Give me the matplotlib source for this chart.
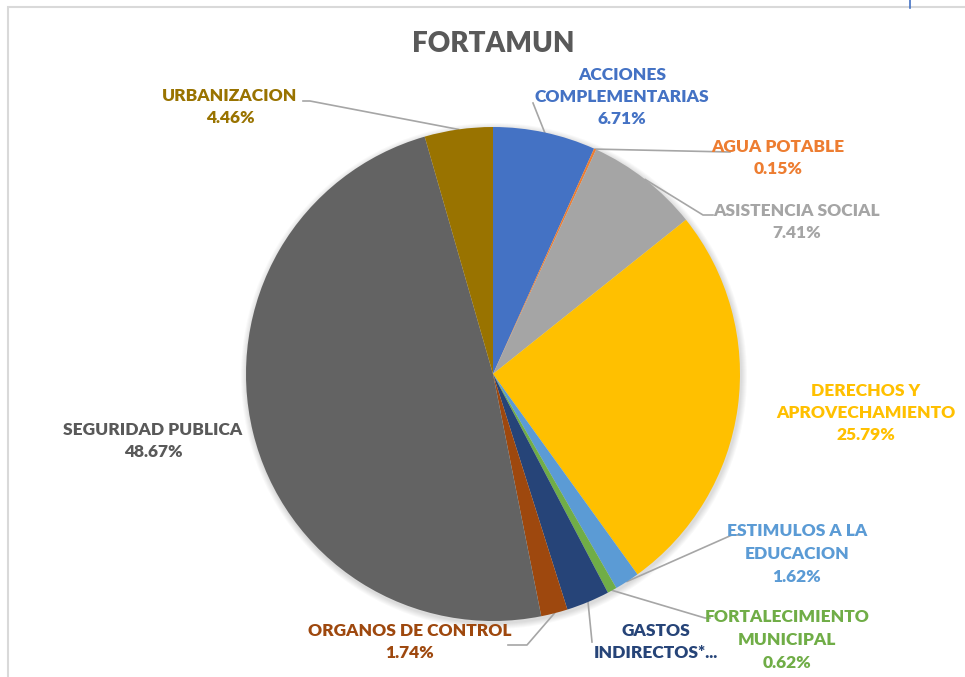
import numpy as np
import matplotlib.pyplot as plt
from matplotlib.patches import Rectangle, Circle

categorias = ['ACCIONES\nCOMPLEMENTARIAS', 'AGUA POTABLE', 'ASISTENCIA SOCIAL',
              'DERECHOS Y\nAPROVECHAMIENTO', 'ESTIMULOS A LA\nEDUCACION',
              'FORTALECIMIENTO\nMUNICIPAL', 'GASTOS\nINDIRECTOS*...',
              'ORGANOS DE CONTROL', 'SEGURIDAD PUBLICA', 'URBANIZACION']
porcentajes = [6.71, 0.15, 7.41, 25.79, 1.62, 0.62, 2.83, 1.74, 48.67, 4.46]
etiquetas_pct = ['6.71%', '0.15%', '7.41%', '25.79%', '1.62%', '0.62%', '',
                 '1.74%', '48.67%', '4.46%']
colores = ['#4472C4', '#ED7D31', '#A5A5A5', '#FFC000', '#5B9BD5', '#70AD47',
           '#264478', '#9E480E', '#636363', '#997300']

plt.rcParams['font.family'] = ['Lato', 'DejaVu Sans']

W, H = 965, 677
fig = plt.figure(figsize=(9.65, 6.77), dpi=100)
ax = fig.add_axes([0, 0, 1, 1])

# marco del grafico
ax.add_patch(Rectangle((8, -20), 1000, H - 7 + 20, fill=False, ec='#D9D9D9', lw=1.5))
ax.plot([910, 910], [H, H - 8], color='#4472C4', lw=1.2)

cx, cy, r = 493, H - 374, 247

# sombra suave
for k in range(6):
    ax.add_patch(Circle((cx + 1, cy - 2), r + 1 + k, color='black', alpha=0.025,
                        lw=0, zorder=0.2))

wedges, _ = ax.pie(porcentajes, colors=colores, startangle=90, counterclock=False,
                   center=(cx, cy), radius=r, frame=True,
                   wedgeprops=dict(linewidth=0))
ax.set_xlim(0, W)
ax.set_ylim(0, H)
ax.set_aspect('equal')
ax.axis('off')

ax.text(493, H - 44, 'FORTAMUN', ha='center', va='center', fontsize=20,
        fontweight='heavy', color='#595959')

# posiciones de las etiquetas (centro del bloque, coords de imagen) y fin de la guia
pos = [(622, 97, (533, 103)), (778, 158, (730, 152)), (797, 222, (713, 215)),
       (866, 413, None), (797, 554, (740, 535)), (787, 640, (710, 618)),
       (656, 642, (592, 642)), (410, 642, (508, 645)), (153, 441, None),
       (230, 107, (303, 101))]
codo = [None, None, (703, 215), None, (732, 535), (705, 618), None, (527, 645),
        None, (310, 101)]

for w, cat, pct, col, (tx, ty, fin), c in zip(wedges, categorias, etiquetas_pct,
                                              colores, pos, codo):
    texto = cat + ('\n' + pct if pct else '')
    if col == '#636363':
        tcol = '#595959'
    else:
        tcol = col
    ax.text(tx, H - ty, texto, ha='center', va='center', fontsize=12.5,
            fontweight='heavy', color=tcol, linespacing=1.5)
    if fin is not None:
        ang = np.deg2rad((w.theta1 + w.theta2) / 2)
        x0, y0 = cx + r * np.cos(ang), cy + r * np.sin(ang)
        xs, ys = [x0], [y0]
        if c is not None:
            xs.append(c[0]); ys.append(H - c[1])
        xs.append(fin[0]); ys.append(H - fin[1])
        ax.plot(xs, ys, color='#A6A6A6', lw=1.2, zorder=0.5)

fig.savefig('out.png', dpi=100)
